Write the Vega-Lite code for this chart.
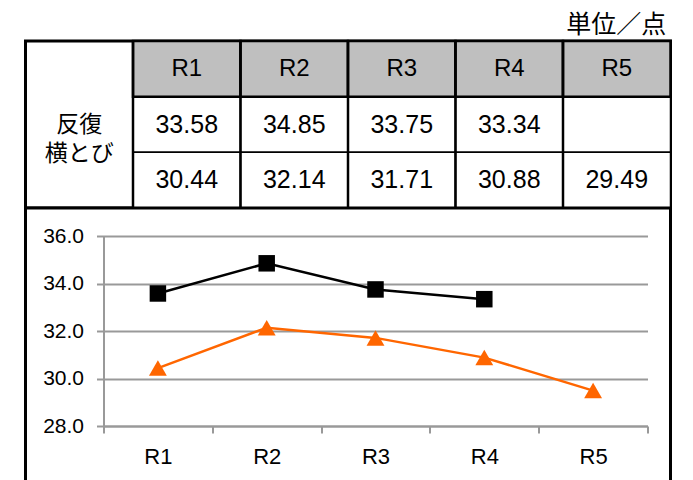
{
  "$schema": "https://vega.github.io/schema/vega-lite/v6.json",
  "background": "white",
  "padding": {"left": 23.5, "top": 13, "right": 0, "bottom": 0},
  "config": {
    "view": {"stroke": "black", "strokeWidth": 3, "fill": "white"},
    "font": "Liberation Sans"
  },
  "datasets": {
    "rounds": [
      {"round": "R1"}, {"round": "R2"}, {"round": "R3"}, {"round": "R4"}, {"round": "R5"}
    ],
    "scores": [
      {"round": "R1", "series": "s1", "value": 33.58},
      {"round": "R2", "series": "s1", "value": 34.85},
      {"round": "R3", "series": "s1", "value": 33.75},
      {"round": "R4", "series": "s1", "value": 33.34},
      {"round": "R5", "series": "s1", "value": null},
      {"round": "R1", "series": "s2", "value": 30.44},
      {"round": "R2", "series": "s2", "value": 32.14},
      {"round": "R3", "series": "s2", "value": 31.71},
      {"round": "R4", "series": "s2", "value": 30.88},
      {"round": "R5", "series": "s2", "value": 29.49}
    ],
    "event": [{"name": ["反復", "横とび"]}]
  },
  "title": {
    "text": "単位／点",
    "anchor": "end",
    "font": "Noto Sans CJK JP",
    "fontSize": 25,
    "fontWeight": "normal",
    "color": "black",
    "dx": -7,
    "offset": 0
  },
  "spacing": 0,
  "bounds": "flush",
  "vconcat": [
    {
      "width": 645,
      "height": 167,
      "layer": [
        {
          "data": {"name": "scores"},
          "mark": {"type": "rect", "fill": "white", "stroke": "black", "strokeWidth": 1.5},
          "encoding": {
            "x": {"field": "round", "type": "nominal", "axis": null,
                  "scale": {"type": "band", "domain": ["label", "R1", "R2", "R3", "R4", "R5"], "paddingInner": 0, "paddingOuter": 0}},
            "y": {"field": "series", "type": "nominal", "axis": null,
                  "scale": {"type": "band", "domain": ["head", "s1", "s2"], "paddingInner": 0, "paddingOuter": 0}}
          }
        },
        {
          "data": {"name": "rounds"},
          "mark": {"type": "rect", "fill": "#bfbfbf", "stroke": "black", "strokeWidth": 2.5},
          "encoding": {
            "x": {"field": "round", "type": "nominal", "axis": null},
            "y": {"datum": "head", "type": "nominal", "axis": null}
          }
        },
        {
          "data": {"name": "rounds"},
          "mark": {"type": "rule", "color": "black", "strokeWidth": 2.5},
          "encoding": {
            "x": {"field": "round", "type": "nominal", "bandPosition": 0, "axis": null}
          }
        },
        {
          "data": {"name": "rounds"},
          "mark": {"type": "text", "fontSize": 24, "color": "black", "baseline": "middle"},
          "encoding": {
            "x": {"field": "round", "type": "nominal", "axis": null},
            "y": {"datum": "head", "type": "nominal", "axis": null},
            "text": {"field": "round"}
          }
        },
        {
          "data": {"name": "scores"},
          "transform": [{"filter": "isValid(datum.value)"}],
          "mark": {"type": "text", "fontSize": 25, "color": "black", "baseline": "middle"},
          "encoding": {
            "x": {"field": "round", "type": "nominal", "axis": null},
            "y": {"field": "series", "type": "nominal", "axis": null},
            "text": {"field": "value", "format": ".2f"}
          }
        },
        {
          "data": {"name": "event"},
          "mark": {"type": "text", "font": "Noto Sans CJK JP", "fontSize": 23, "lineHeight": 29, "color": "black", "baseline": "middle"},
          "encoding": {
            "x": {"datum": "label", "type": "nominal", "axis": null},
            "y": {"datum": "s1", "type": "nominal", "axis": null},
            "text": {"field": "name"}
          }
        }
      ]
    },
    {
      "width": 645,
      "height": 290,
      "data": {"name": "scores"},
      "encoding": {
        "x": {
          "field": "round", "type": "nominal", "bandPosition": 0.5,
          "scale": {"type": "band", "domain": ["R1", "R2", "R3", "R4", "R5"], "range": [78, 622], "paddingInner": 0, "paddingOuter": 0},
          "axis": {
            "title": null, "orient": "bottom", "offset": -72, "tickBand": "extent", "grid": false,
            "domainColor": "#999999", "domainWidth": 2, "tickColor": "#999999", "tickWidth": 2, "tickSize": 7,
            "labelFontSize": 22, "labelColor": "black", "labelPadding": 13, "labelAngle": 0
          }
        },
        "y": {
          "field": "value", "type": "quantitative",
          "scale": {"domain": [28, 36], "range": [218, 28], "zero": false, "nice": false},
          "axis": {
            "title": null, "offset": -78, "values": [28, 30, 32, 34, 36], "format": ".1f",
            "grid": true, "gridColor": "#999999", "gridWidth": 2,
            "domainColor": "#999999", "domainWidth": 2, "tickColor": "#999999", "tickWidth": 2, "tickSize": 7,
            "labelFontSize": 21, "labelColor": "black", "labelPadding": 13
          }
        },
        "color": {"field": "series", "type": "nominal", "legend": null,
                  "scale": {"domain": ["s1", "s2"], "range": ["#000000", "#ff6600"]}}
      },
      "layer": [
        {"mark": {"type": "line", "strokeWidth": 2.5}},
        {
          "mark": {"type": "point", "filled": true, "opacity": 1},
          "encoding": {
            "shape": {"field": "series", "type": "nominal", "legend": null,
                      "scale": {"domain": ["s1", "s2"], "range": ["square", "triangle-up"]}},
            "size": {"field": "series", "type": "nominal", "legend": null,
                     "scale": {"domain": ["s1", "s2"], "range": [272, 320]}}
          }
        }
      ]
    }
  ]
}
